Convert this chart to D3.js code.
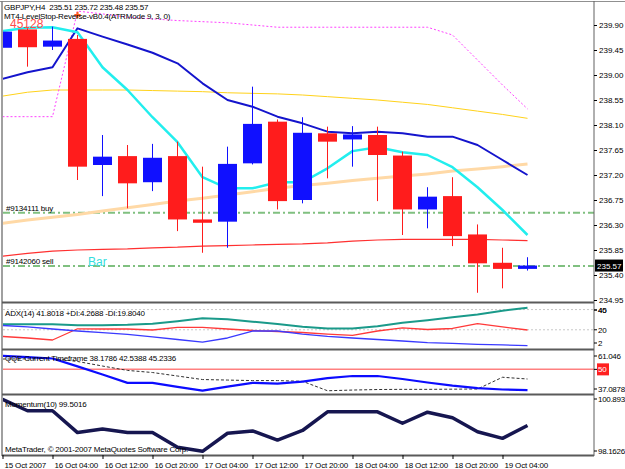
<!DOCTYPE html>
<html>
<head>
<meta charset="utf-8">
<script src="https://cdn.jsdelivr.net/npm/d3@7"></script>
<style>
body { margin: 0; background: #fff; }
text { font-family: "Liberation Sans", Arial, sans-serif; font-size: 8px; }
text.title { letter-spacing: -0.2px; white-space: pre; }
text.side { letter-spacing: -0.3px; }
</style>
</head>
<body>
<svg id="chart"></svg>
<script>
// bar times, H4
var bars = ["15 Oct 20:00", "16 Oct 00:00", "16 Oct 04:00", "16 Oct 08:00", "16 Oct 12:00", "16 Oct 16:00",
            "16 Oct 20:00", "17 Oct 00:00", "17 Oct 04:00", "17 Oct 08:00", "17 Oct 12:00", "17 Oct 16:00",
            "17 Oct 20:00", "18 Oct 00:00", "18 Oct 04:00", "18 Oct 08:00", "18 Oct 12:00", "18 Oct 16:00",
            "18 Oct 20:00", "19 Oct 00:00", "19 Oct 04:00", "19 Oct 08:00"];

var open  = [239.49, 239.82, 239.51, 239.65, 237.38, 237.54, 237.07, 237.54, 236.40, 236.36, 237.41,
             238.16, 236.75, 237.95, 237.84, 237.92, 237.55, 236.58, 236.82, 236.13, 235.62, 235.51];
var high  = [239.96, 239.84, 239.87, 239.72, 237.92, 237.74, 237.76, 237.80, 237.35, 237.71, 238.79,
             238.20, 238.24, 238.07, 238.08, 238.07, 237.62, 236.98, 237.16, 236.31, 235.89, 235.72];
var low   = [239.15, 239.15, 239.45, 237.11, 236.82, 236.60, 236.91, 236.19, 235.80, 235.89, 237.39,
             236.58, 236.69, 237.14, 237.35, 236.73, 236.12, 236.24, 235.92, 235.08, 235.16, 235.48];
var close = [239.78, 239.50, 239.62, 237.35, 237.53, 237.05, 237.51, 236.40, 236.34, 237.40, 238.12,
             236.73, 237.96, 237.80, 237.93, 237.56, 236.58, 236.81, 236.10, 235.61, 235.51, 235.57];

// overlays on the price window
var fastMA  = [239.79, 239.85, 239.86, 239.77, 239.14, 238.73, 238.24, 237.79, 237.16, 236.96, 236.96,
               237.07, 237.07, 237.32, 237.63, 237.70, 237.61, 237.56, 237.34, 236.98, 236.57, 236.12];
var slowMA  = [238.93, 239.05, 239.14, 239.84, 239.69, 239.55, 239.40, 239.21, 238.85, 238.55, 238.43,
               238.25, 238.13, 237.98, 237.95, 237.98, 237.95, 237.89, 237.89, 237.74, 237.47, 237.20];
var goldMA  = [238.62, 238.69, 238.73, 238.73, 238.73, 238.73, 238.72, 238.71, 238.70, 238.68, 238.67,
               238.66, 238.64, 238.61, 238.58, 238.55, 238.51, 238.47, 238.41, 238.35, 238.29, 238.22];
var wheatMA = [236.33, 236.39, 236.44, 236.49, 236.55, 236.61, 236.67, 236.73, 236.78, 236.84, 236.90,
               236.96, 237.01, 237.05, 237.10, 237.14, 237.18, 237.22, 237.27, 237.31, 237.35, 237.40];
var redMA   = [235.74, 235.79, 235.83, 235.85, 235.86, 235.87, 235.89, 235.90, 235.92, 235.93, 235.94,
               235.95, 235.96, 235.98, 236.01, 236.03, 236.04, 236.04, 236.04, 236.04, 236.03, 236.02];
var stopLine = [238.25, 238.25, 238.25, 240.15, 240.10, 240.04, 240.01, 239.98, 239.96, 239.94, 239.90,
                239.86, 239.86, 239.86, 239.86, 239.86, 239.86, 239.86, 239.72, 239.27, 238.82, 238.39];
var orderLevels = [{label: "#9134111 buy", price: 236.52}, {label: "#9142060 sell", price: 235.56}];
var markerBar = 3, markerPrice = 240.08;

// ADX(14)
var adx     = [25.6, 25.6, 25.5, 24.6, 24.5, 24.9, 26.0, 28.5, 31.3, 30.5, 28.0,
               25.8, 23.0, 21.2, 21.2, 23.5, 27.0, 29.5, 32.5, 35.1, 38.8, 41.8018];
var plusDI  = [24.3, 22.8, 20.8, 18.8, 17.3, 15.4, 12.9, 10.4, 7.9, 11.9, 18.8,
               18.8, 15.8, 13.4, 11.9, 10.4, 8.9, 7.4, 6.5, 5.5, 5.0, 4.2688];
var minusDI = [13.4, 11.9, 9.9, 21.0, 20.8, 20.8, 19.8, 22.3, 22.3, 20.8, 19.3,
               18.3, 17.3, 15.8, 14.4, 18.8, 21.8, 20.3, 21.3, 26.2, 22.8, 19.8040];

// QQE
var qqeFast = [57.7, 57.0, 56.2, 51.7, 47.1, 42.3, 42.3, 40.0, 37.9, 40.2, 42.3,
               41.9, 43.0, 45.0, 46.2, 46.2, 44.5, 42.5, 40.7, 39.3, 38.5, 38.1786];
var qqeSlow = [55.9, 56.0, 56.2, 54.5, 51.9, 49.4, 48.2, 46.2, 44.2, 43.9, 43.6,
               43.6, 43.2, 37.8, 38.2, 38.5, 38.6, 38.6, 38.7, 38.8, 45.5, 44.5];

// Momentum(10)
var momentum = [100.74, 100.20, 100.20, 99.17, 99.34, 99.17, 99.18, 98.48, 98.29, 99.14, 99.25,
                98.82, 99.27, 100.15, 100.15, 100.15, 99.61, 100.13, 99.87, 99.21, 98.90, 99.5016];

// axis ticks
var priceTicks = [239.90, 239.45, 239.00, 238.55, 238.10, 237.65, 237.20, 236.75, 236.30, 235.85, 235.40, 234.95];
var timeTicks = [0, 2, 4, 6, 8, 10, 12, 14, 16, 18, 20];
var timeLabels = ["15 Oct 2007", "16 Oct 04:00", "16 Oct 12:00", "16 Oct 20:00", "17 Oct 04:00", "17 Oct 12:00",
                  "17 Oct 20:00", "18 Oct 04:00", "18 Oct 12:00", "18 Oct 20:00", "19 Oct 04:00"];

var width = 625, height = 469;
var plotLeft = 3, axisX = 594;

var svg = d3.select("#chart").attr("width", width).attr("height", height);

var panels = {
    main: {top: 3, bottom: 301},
    adx:  {top: 305, bottom: 348},
    qqe:  {top: 351, bottom: 393},
    mom:  {top: 396, bottom: 455}
};

var x = d3.scaleLinear().domain([0, bars.length - 1]).range([2.5, 527.5]);
var yMain = d3.scaleLinear().domain([234.95, 239.90]).range([300, 25]);
var yAdx = d3.scaleLinear().domain([2, 45.5]).range([348, 304]);
var yQqe = d3.scaleLinear().domain([37.0878, 61.046]).range([392, 350]);
var yMom = d3.scaleLinear().domain([98.1626, 100.8932]).range([454, 396]);

var defs = svg.append("defs");
function panelGroup(name) {
    var p = panels[name];
    defs.append("clipPath").attr("id", "clip-" + name).append("rect")
        .attr("x", plotLeft).attr("y", p.top).attr("width", axisX - plotLeft).attr("height", p.bottom - p.top);
    return svg.append("g").attr("clip-path", "url(#clip-" + name + ")");
}

function drawLine(g, data, y, color, w, dash) {
    var line = d3.line().x(function(d, i) { return x(i); }).y(function(d) { return y(d); });
    g.append("path").datum(data).attr("d", line)
        .attr("fill", "none").attr("stroke", color).attr("stroke-width", w)
        .attr("stroke-linejoin", "round")
        .attr("stroke-dasharray", dash || null);
}

function hLevel(g, y, v, color, w, dash) {
    g.append("line").attr("x1", plotLeft).attr("x2", axisX)
        .attr("y1", y(v)).attr("y2", y(v))
        .attr("stroke", color).attr("stroke-width", w).attr("stroke-dasharray", dash || null);
}

function title(g, tx, ty, s) {
    return g.append("text").attr("class", "title").attr("x", tx).attr("y", ty).text(s);
}

// ---------- main price window ----------
var main = panelGroup("main");

orderLevels.forEach(function(o) {
    hLevel(main, yMain, o.price, "#80c080", 2, "7,3,2,3");
    title(main, 6, yMain(o.price) - 2, o.label);
});

drawLine(main, redMA, yMain, "#ff3030", 1.2);
drawLine(main, wheatMA, yMain, "#ffd9a6", 3);
drawLine(main, goldMA, yMain, "#ffd21a", 1);
drawLine(main, stopLine, yMain, "#ff40ff", 1, "2,2");
drawLine(main, slowMA, yMain, "#1414cc", 2);
drawLine(main, fastMA, yMain, "#22eeee", 2.5);

var candles = main.selectAll(".candle").data(bars).enter().append("g").attr("class", "candle");
candles.append("line")
    .attr("x1", function(d, i) { return x(i); }).attr("x2", function(d, i) { return x(i); })
    .attr("y1", function(d, i) { return yMain(high[i]); })
    .attr("y2", function(d, i) { return yMain(low[i]); })
    .attr("stroke", function(d, i) { return close[i] >= open[i] ? "#1010ff" : "#ff1c1c"; });
candles.append("rect")
    .attr("x", function(d, i) { return x(i) - 9.5; })
    .attr("width", 19)
    .attr("y", function(d, i) { return yMain(Math.max(open[i], close[i])); })
    .attr("height", function(d, i) { return Math.max(1, Math.abs(yMain(open[i]) - yMain(close[i]))); })
    .attr("fill", function(d, i) { return close[i] >= open[i] ? "#1010ff" : "#ff1c1c"; });

main.append("path")
    .attr("d", d3.symbol(d3.symbolCross).size(22)())
    .attr("transform", "translate(" + x(markerBar) + "," + yMain(markerPrice) + ")")
    .attr("fill", "#ff5a1a");

main.append("text").attr("x", 10).attr("y", 28).text("45128")
    .attr("fill", "#ff4a4a").style("font-size", "12px");
main.append("text").attr("x", 88).attr("y", 266).text("Bar")
    .attr("fill", "#33dddd").style("font-size", "12px");
title(main, 4, 10, "GBPJPY,H4  235.51 235.72 235.48 235.57");
title(main, 4, 19, "MT4-LevelStop-Reverse-vB0.4(ATRMode 9, 3, 0)");

// ---------- ADX ----------
var gAdx = panelGroup("adx");
hLevel(gAdx, yAdx, 40, "#c8c8c8", 1, "2,2");
hLevel(gAdx, yAdx, 20, "#c8c8c8", 1, "2,2");
drawLine(gAdx, adx, yAdx, "#1a9a8a", 2);
drawLine(gAdx, minusDI, yAdx, "#ff3a3a", 1.3);
drawLine(gAdx, plusDI, yAdx, "#3a3aff", 1.3);
title(gAdx, 5, 316, "ADX(14) 41.8018 +DI:4.2688 -DI:19.8040");

// ---------- QQE ----------
var gQqe = panelGroup("qqe");
hLevel(gQqe, yQqe, 50, "#ff8080", 1.5);
drawLine(gQqe, qqeSlow, yQqe, "#303030", 1, "3,2");
drawLine(gQqe, qqeFast, yQqe, "#0c0cff", 2.2);
title(gQqe, 5, 361, "QQE Current Timeframe 38.1786 42.5388 45.2336");

// ---------- Momentum ----------
var gMom = panelGroup("mom");
drawLine(gMom, momentum, yMom, "#161650", 3.5);
title(gMom, 5, 407, "Momentum(10) 99.5016");
title(gMom, 5, 452, "MetaTrader, \u00a9 2001-2007 MetaQuotes Software Corp.");

// ---------- frames ----------
var frame = svg.append("g");
frame.append("line").attr("x1", 0).attr("x2", width).attr("y1", 1.5).attr("y2", 1.5).attr("stroke", "#909090");
frame.append("line").attr("x1", 2).attr("x2", 2).attr("y1", 1).attr("y2", 456).attr("stroke", "#808080").attr("stroke-width", 1.5);
[302.5, 349.5, 394.5, 455.5].forEach(function(yy) {
    frame.append("line").attr("x1", 2).attr("x2", axisX).attr("y1", yy).attr("y2", yy)
        .attr("stroke", "#5a5a5a").attr("stroke-width", 2);
});
frame.append("line").attr("x1", axisX).attr("x2", axisX).attr("y1", 1).attr("y2", 456).attr("stroke", "#606060");

// ---------- right axes ----------
var priceAxis = svg.append("g").attr("transform", "translate(" + axisX + ",0)")
    .call(d3.axisRight(yMain).tickValues(priceTicks).tickSize(3).tickPadding(2).tickFormat(d3.format(".2f")));
priceAxis.select(".domain").remove();
priceAxis.selectAll("text").style("font-size", "8px").attr("fill", "#000");

var last = close[close.length - 1];
svg.append("rect").attr("x", axisX + 1).attr("y", yMain(last) - 6).attr("width", 28).attr("height", 12).attr("fill", "#000");
svg.append("text").attr("x", axisX + 3).attr("y", yMain(last) + 3).text(d3.format(".2f")(last)).attr("fill", "#fff");

function sideLabel(name, y, v, txt, pad) {
    var p = panels[name];
    var yy = Math.min(Math.max(y(v), p.top + pad), p.bottom - pad);
    svg.append("line").attr("x1", axisX).attr("x2", axisX + 3).attr("y1", yy).attr("y2", yy).attr("stroke", "#000");
    return svg.append("text").attr("class", "side").attr("x", axisX + 4).attr("y", yy + 3).text(txt);
}
sideLabel("adx", yAdx, 45, "45", 5);
sideLabel("adx", yAdx, 40, "40", 5);
sideLabel("adx", yAdx, 20, "20", 5);
sideLabel("adx", yAdx, 2, "2", 5);
sideLabel("qqe", yQqe, 61.046, "61.046", 5);
svg.append("rect").attr("x", axisX + 3).attr("y", yQqe(50) - 6).attr("width", 12).attr("height", 12).attr("fill", "#ff2020");
sideLabel("qqe", yQqe, 50, "50", 5).attr("fill", "#fff");
sideLabel("qqe", yQqe, 37.0878, "37.0878", 4);
sideLabel("mom", yMom, 100.8932, "100.8932", 3);
sideLabel("mom", yMom, 98.1626, "98.1626", 4);

// ---------- time axis ----------
var timeAxis = svg.append("g").attr("transform", "translate(0,455)")
    .call(d3.axisBottom(x).tickValues(timeTicks).tickSize(4).tickPadding(3)
        .tickFormat(function(d, i) { return timeLabels[i]; }));
timeAxis.select(".domain").remove();
timeAxis.selectAll("text").attr("text-anchor", "start").attr("dx", "0.2em")
    .style("font-size", "8px").style("letter-spacing", "-0.2px").attr("fill", "#000");
</script>
</body>
</html>
